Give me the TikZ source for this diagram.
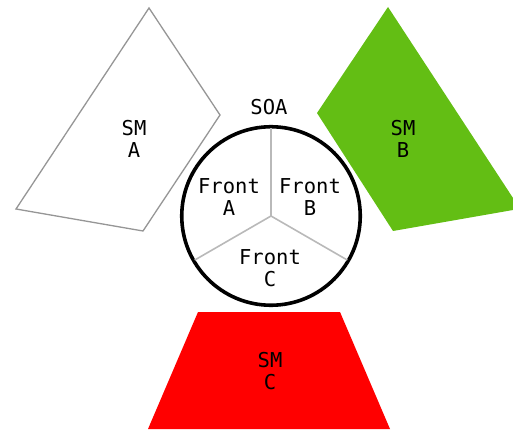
\documentclass[tikz,border=0pt]{standalone}
\usepackage{fontspec}
\setmonofont{DejaVu Sans Mono}
\usepackage{tikz}
\definecolor{smgreen}{RGB}{99,190,20}
\definecolor{smred}{RGB}{255,0,0}
\definecolor{edgegray}{RGB}{150,150,150}
\definecolor{spokegray}{RGB}{185,185,185}
\tikzset{
  label text/.style={align=center, inner sep=0pt, font=\fontsize{20.5}{22}\selectfont\ttfamily},
  spoke/.style={spokegray, line width=1.6pt, shorten >=3pt},
}

\begin{document}
\begin{tikzpicture}[x=1pt, y=-1pt]
\useasboundingbox (0,0) rectangle (513,435);
% Service modules
\draw[edgegray, line width=1.3pt, fill=white] (149,8) -- (220,115) -- (143,231) -- (16,209) -- cycle;
\fill[smgreen] (388,7) -- (513,198) -- (513,210) -- (393,231) -- (317,113) -- cycle;
\fill[smred] (198,312) -- (340,312) -- (390,429) -- (148,429) -- cycle;

% SOA circle split into three fronts
\node[draw, circle, line width=3.6pt, minimum size=178.5pt, inner sep=0pt] (ring) at (271,216) {};
\draw[spoke] (ring.center) -- (ring.90);
\draw[spoke] (ring.center) -- (ring.210);
\draw[spoke] (ring.center) -- (ring.330);

% Labels
\node[label text] (soa) at (269,107) {SOA};
\node[label text] (fronta) at (229,197) {Front\\A};
\node[label text] (frontb) at (310,197) {Front\\B};
\node[label text] (frontc) at (270,268) {Front\\C};
\node[label text] (sma) at (134,139) {SM\\A};
\node[label text] (smb) at (403,139) {SM\\B};
\node[label text] (smc) at (270,371) {SM\\C};
\end{tikzpicture}
\end{document}
